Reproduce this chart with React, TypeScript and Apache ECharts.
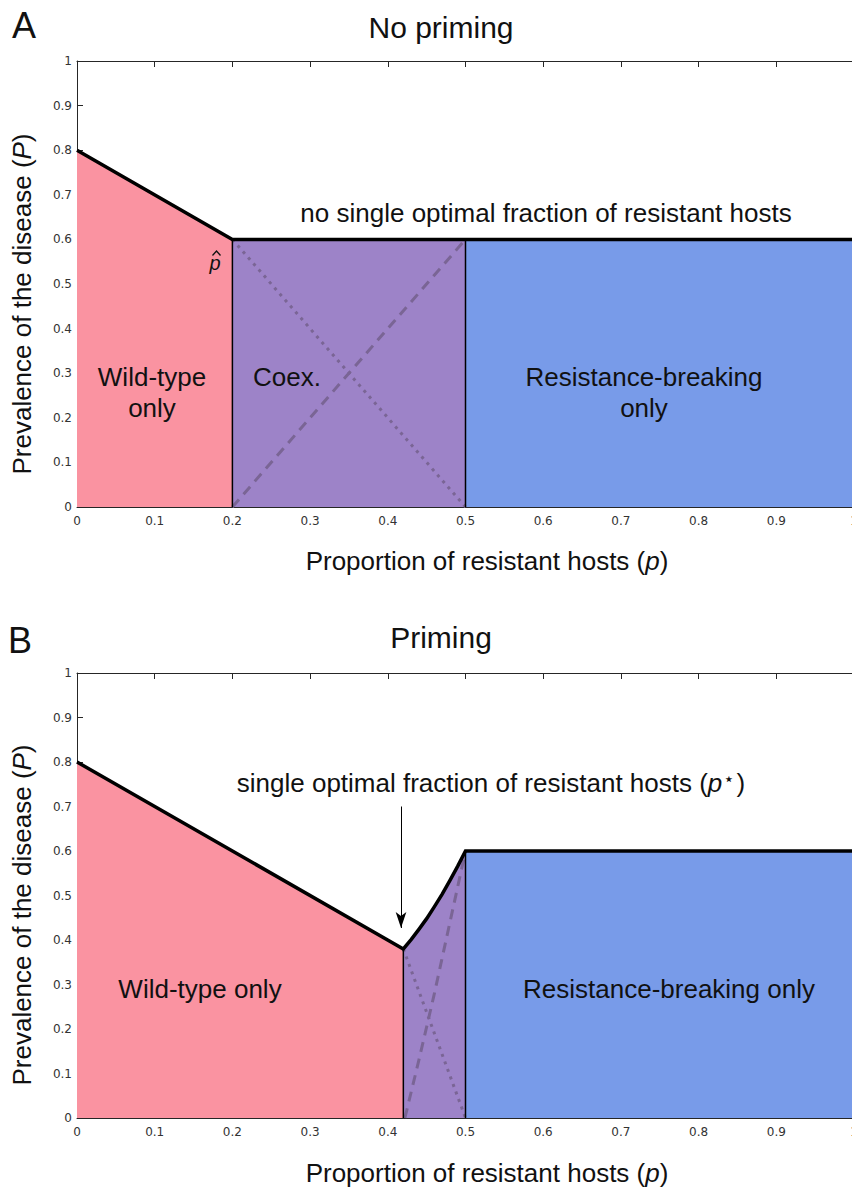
import React, { useEffect, useRef } from "react";
import * as echarts from "echarts";

// ---------- data ----------
// Panel A (no priming)
const wildA: number[][] = [[0, 0.8], [0.2, 0.6]];
const coexA: number[][] = [[0.2, 0.6], [0.5, 0.6]];
const rbA: number[][] = [[0.5, 0.6], [1, 0.6]];
const boundaryA: number[][] = [[0, 0.8], [0.2, 0.6], [1, 0.6]];
const dottedA: number[][] = [[0.2, 0.6], [0.5, 0]];
const dashedA: number[][] = [[0.2, 0], [0.5, 0.6]];
const vLinesA: number[][][] = [
  [[0.2, 0], [0.2, 0.6]],
  [[0.5, 0], [0.5, 0.6]],
];

// Panel B (priming)
const wildB: number[][] = [[0, 0.8], [0.42, 0.38]];
const coexB: number[][] = [
  [0.42, 0.38], [0.43, 0.401], [0.44, 0.424], [0.45, 0.448], [0.46, 0.475],
  [0.47, 0.503], [0.48, 0.534], [0.49, 0.566], [0.5, 0.6],
];
const rbB: number[][] = [[0.5, 0.6], [1, 0.6]];
const boundaryB: number[][] = [[0, 0.8], ...coexB, [1, 0.6]];
const dottedB: number[][] = [[0.42, 0.38], [0.5, 0]];
const dashedB: number[][] = [[0.422, 0], [0.44, 0.13], [0.46, 0.28], [0.48, 0.44], [0.5, 0.6]];
const vLinesB: number[][][] = [
  [[0.42, 0], [0.42, 0.38]],
  [[0.5, 0], [0.5, 0.6]],
];
const arrowB: number[][] = [[0.417, 0.70], [0.417, 0.427]];

// ---------- styles ----------
const PINK = "#FA93A1";
const PURPLE = "#9D83C8";
const BLUE = "#789BE9";
const GUIDE = "#7A6595";
const AXIS = "#262626";
const SANS = "'Liberation Sans', Arial, Helvetica, sans-serif";
const TICKFONT = "'DejaVu Sans', sans-serif";
const GRID_W = 777;

function area(data: number[][], color: string, xi: number) {
  return {
    type: "line",
    xAxisIndex: xi,
    yAxisIndex: xi,
    data,
    symbol: "none",
    silent: true,
    lineStyle: { width: 0, opacity: 0 },
    areaStyle: { color, opacity: 1 },
    z: 1,
  };
}
function line(data: number[][], xi: number, width: number, type: any, color: string, z: number) {
  return {
    type: "line",
    xAxisIndex: xi,
    yAxisIndex: xi,
    data,
    symbol: "none",
    silent: true,
    lineStyle: { width, type, color, cap: "butt", join: "miter" },
    z,
  };
}

function xAxes(gi: number) {
  return [
    {
      type: "value",
      gridIndex: gi,
      min: 0,
      max: 1,
      interval: 0.1,
      position: "bottom",
      axisLine: { onZero: false, lineStyle: { color: AXIS, width: 1 } },
      axisTick: { inside: true, length: 6, lineStyle: { color: AXIS } },
      axisLabel: { color: "#333", fontSize: 12, fontFamily: TICKFONT, margin: 8 },
      splitLine: { show: false },
    },
    {
      type: "value",
      gridIndex: gi,
      min: 0,
      max: 1,
      interval: 0.1,
      position: "top",
      axisLine: { onZero: false, lineStyle: { color: AXIS, width: 1 } },
      axisTick: { inside: true, length: 6, lineStyle: { color: AXIS } },
      axisLabel: { show: false },
      splitLine: { show: false },
    },
  ];
}
function yAxis(gi: number, show: boolean) {
  return {
    type: "value",
    gridIndex: gi,
    show,
    min: 0,
    max: 1,
    interval: 0.1,
    axisLine: { show: true, onZero: false, lineStyle: { color: AXIS, width: 1 } },
    axisTick: { show: true, inside: true, length: 6, lineStyle: { color: AXIS } },
    axisLabel: { color: "#333", fontSize: 12, fontFamily: TICKFONT, margin: 5 },
    splitLine: { show: false },
  };
}

function txt(x: number, y: number, text: string, size: number, extra: any = {}) {
  return {
    type: "text",
    x,
    y,
    silent: true,
    z: 100,
    style: {
      text,
      fill: "#111",
      fontSize: size,
      fontFamily: SANS,
      align: "center",
      verticalAlign: "middle",
      ...extra,
    },
  };
}
function italicVar(x: number, y: number, pre: string, v: string, post: string, size: number, rotation = 0, star = false) {
  const rich: any = {
    n: { fontSize: size, fontFamily: SANS, fill: "#111" },
    i: { fontSize: size, fontFamily: SANS, fontStyle: "italic", fill: "#111" },
    s: { fontSize: 18, fontFamily: "'DejaVu Sans', sans-serif", fill: "#111", padding: [0, 2, 9, 1] },
  };
  return {
    type: "text",
    x,
    y,
    rotation,
    silent: true,
    z: 100,
    style: {
      text: `{n|${pre}}{i|${v}}${star ? "{s|\u22C6}" : ""}{n|${post}}`,
      rich,
      align: "center",
      verticalAlign: "middle",
    },
  };
}

export default function App() {
  const ref = useRef<HTMLDivElement>(null);
  useEffect(() => {
    if (!ref.current) return;
    const chart = echarts.init(ref.current, null, { renderer: "svg" });
    const option: any = {
      animation: false,
      backgroundColor: "#fff",
      grid: [
        { left: 77, top: 61, width: GRID_W, height: 446, outerBoundsMode: "none", containLabel: false },
        { left: 77, top: 673, width: GRID_W, height: 445, outerBoundsMode: "none", containLabel: false },
      ],
      xAxis: [...xAxes(0), ...xAxes(1)],
      yAxis: [yAxis(0, true), yAxis(0, false), yAxis(1, true), yAxis(1, false)],
      series: [
        // Panel A
        area(wildA, PINK, 0),
        area(coexA, PURPLE, 0),
        area(rbA, BLUE, 0),
        line(dottedA, 0, 3, [3, 5], GUIDE, 3),
        line(dashedA, 0, 3, [10, 7], GUIDE, 3),
        ...vLinesA.map((d) => line(d, 0, 1.5, "solid", "#000", 4)),
        line(boundaryA, 0, 3.5, "solid", "#000", 5),
        // Panel B
        area(wildB, PINK, 2),
        area(coexB, PURPLE, 2),
        area(rbB, BLUE, 2),
        line(dottedB, 2, 3, [3, 5], GUIDE, 3),
        line(dashedB, 2, 3, [10, 7], GUIDE, 3),
        ...vLinesB.map((d) => line(d, 2, 1.5, "solid", "#000", 4)),
        {
          ...line(boundaryB, 2, 3.5, "solid", "#000", 5),
          markLine: {
            silent: true,
            symbol: ["none", "arrow"],
            symbolSize: [8, 16],
            label: { show: false },
            lineStyle: { color: "#000", width: 1, type: "solid" },
            data: [[{ coord: arrowB[0] }, { coord: arrowB[1] }]],
          },
        },
      ],
      graphic: [
        // Panel A
        txt(24, 25, "A", 36),
        txt(441, 27, "No priming", 30),
        italicVar(22, 304, "Prevalence of the disease (", "P", ")", 26, Math.PI / 2),
        italicVar(487, 561, "Proportion of resistant hosts (", "p", ")", 26),
        txt(546, 213, "no single optimal fraction of resistant hosts", 26),
        // p-hat label: italic p plus a drawn circumflex accent
        txt(215, 263, "p", 20, { fontStyle: "italic" }),
        {
          type: "polyline",
          silent: true,
          z: 100,
          shape: { points: [[212.5, 255.5], [216.5, 251], [220.5, 255.5]] },
          style: { stroke: "#111", lineWidth: 1.3, fill: "none" },
        },
        txt(152, 392, "Wild-type\nonly", 26, { lineHeight: 31 }),
        txt(287, 377, "Coex.", 26),
        txt(644, 392, "Resistance-breaking\nonly", 26, { lineHeight: 31 }),
        // Panel B
        txt(20, 640, "B", 36),
        txt(441, 637, "Priming", 30),
        italicVar(22, 915, "Prevalence of the disease (", "P", ")", 26, Math.PI / 2),
        italicVar(487, 1173, "Proportion of resistant hosts (", "p", ")", 26),
        italicVar(491, 783, "single optimal fraction of resistant hosts (", "p", ")", 26, 0, true),
        txt(200, 989, "Wild-type only", 26),
        txt(669, 989, "Resistance-breaking only", 26),
      ],
    };
    chart.setOption(option);
    return () => chart.dispose();
  }, []);
  return (
    <div
      ref={ref}
      style={{ position: "absolute", left: 0, top: 0, width: 852, height: 1189, background: "#fff" }}
    />
  );
}
